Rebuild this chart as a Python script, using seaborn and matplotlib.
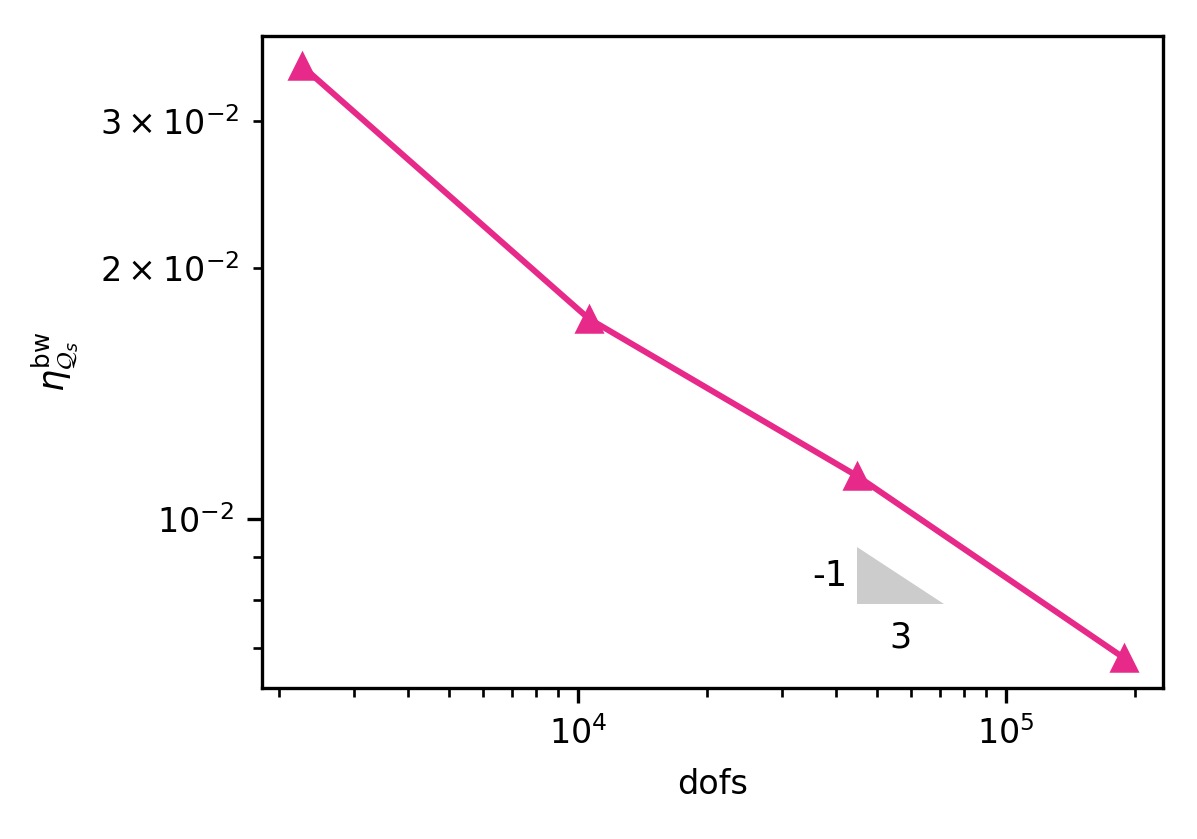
import numpy as np
import pandas as pd
import matplotlib
matplotlib.use("Agg")
import matplotlib.pyplot as plt
import seaborn as sns

dofs = [2265, 10610, 44870, 189000]
eta = [0.0349, 0.01737, 0.01126, 0.00681]

tri_x = [44870, 71600]
tri_y_bottom = 0.00791
slope_rise = "-1"
slope_run = "3"

sns.set_style("ticks")
plt.rcParams.update({
    "font.family": ["DejaVu Sans"],
    "mathtext.fontset": "dejavusans",
    "text.color": "black", "axes.labelcolor": "black",
    "xtick.color": "black", "ytick.color": "black",
    "axes.edgecolor": "black", "axes.linewidth": 1.0,
    "xtick.major.size": 4.5, "xtick.minor.size": 2.8,
    "ytick.major.size": 4.5, "ytick.minor.size": 2.8,
    "xtick.major.width": 1.0, "xtick.minor.width": 0.8,
    "ytick.major.width": 1.0, "ytick.minor.width": 0.8,
    "xtick.major.pad": 4.0, "ytick.major.pad": 4.0,
    "xtick.minor.pad": 4.0, "ytick.minor.pad": 4.0,
})

DPI = 240
fig = plt.figure(figsize=(1197 / DPI, 839 / DPI), dpi=DPI)
ax = fig.add_axes([0.219, 0.18, 0.9716 - 0.219, 0.957 - 0.18])

df = pd.DataFrame({"dofs": dofs, "eta": eta})
sns.lineplot(data=df, x="dofs", y="eta", ax=ax, color="#e7298a", marker="^",
             markersize=8, markeredgecolor="#e7298a", linewidth=1.8)
ax.set_xscale("log")
ax.set_yscale("log")
ax.set_xlim(1828, 2.33e5)
ax.set_ylim(0.00627, 0.0379)

# slope triangle
x0, x1 = tri_x
y0 = tri_y_bottom
y1 = y0 * (x1 / x0) ** (1 / 3)
ax.fill([x0, x0, x1], [y1, y0, y0], color="#cccccc", lw=0, zorder=1)
ax.text(x0 * 0.95, np.sqrt(y0 * y1), slope_rise, ha="right", va="center", fontsize=10.5)
ax.text(np.sqrt(x0 * x1), y0 * 0.955, slope_run, ha="center", va="top", fontsize=10.5)

ax.set_xlabel("dofs", fontsize=10, labelpad=5)
ax.set_ylabel(r"$\eta^{\mathrm{bw}}_{\mathcal{Q}_s}$", fontsize=10.5, labelpad=6)
ax.tick_params(labelsize=10, which="both")

fig.savefig("out.png", dpi=DPI)
